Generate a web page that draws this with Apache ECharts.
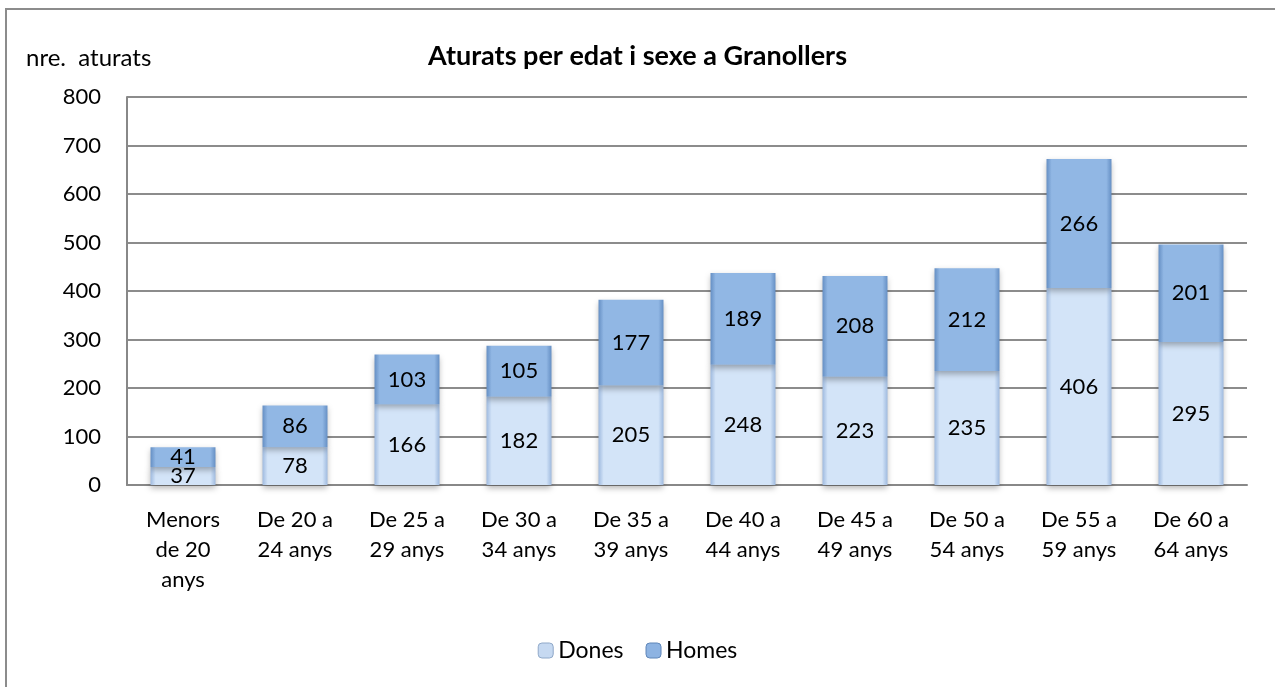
<!DOCTYPE html>
<html><head><meta charset="utf-8">
<script src="https://cdn.jsdelivr.net/npm/echarts@6/dist/echarts.min.js"></script>
<style>html,body{margin:0;padding:0;background:#fff}#c{width:1275px;height:687px}</style>
</head><body><div id="c"></div>
<script>
const categories = ["Menors\nde 20\nanys","De 20 a\n24 anys","De 25 a\n29 anys","De 30 a\n34 anys","De 35 a\n39 anys","De 40 a\n44 anys","De 45 a\n49 anys","De 50 a\n54 anys","De 55 a\n59 anys","De 60 a\n64 anys"];
const dones = [37,78,166,182,205,248,223,235,406,295];
const homes = [41,86,103,105,177,189,208,212,266,201];
const FONT = 'Lato';
const FS = 22;

function grad(edge, mid){
  return new echarts.graphic.LinearGradient(0,0,1,0,[
    {offset:0,color:edge},{offset:0.08,color:mid},{offset:0.92,color:mid},{offset:1,color:edge}]);
}
const chart = echarts.init(document.getElementById('c'));
chart.setOption({
  animation:false,
  title:{text:'Aturats per edat i sexe a Granollers',left:'center',top:38,
    textStyle:{fontFamily:FONT,fontSize:27,fontWeight:'bold',color:'#000'}},
  graphic:[
    {type:'rect',shape:{x:6,y:9,width:1400,height:800},style:{fill:'none',stroke:'#8c8c8c',lineWidth:2}},
    {type:'text',left:26,top:46,style:{text:'nre.  aturats',fontFamily:FONT,fontSize:24,fill:'#000'}}
  ],
  legend:{bottom:20,left:'center',itemWidth:15,itemHeight:15,itemGap:22,
    textStyle:{fontFamily:FONT,fontSize:23,color:'#000'},
    data:[{name:'Dones',itemStyle:{color:'#c6d9f1',borderColor:'#8fa8c8',borderWidth:1}},
          {name:'Homes',itemStyle:{color:'#8db3e2',borderColor:'#5f86b8',borderWidth:1}}]},
  grid:{left:127,right:28,top:97,bottom:202},
  xAxis:{type:'category',data:categories,
    axisLine:{lineStyle:{color:'#888',width:2}},axisTick:{show:false},
    axisLabel:{fontFamily:FONT,fontSize:FS,color:'#000',lineHeight:30,margin:20,interval:0}},
  yAxis:{type:'value',min:0,max:800,interval:100,
    axisLine:{show:true,lineStyle:{color:'#888',width:2}},axisTick:{show:false},
    axisLabel:{fontFamily:FONT,fontSize:FS,color:'#000',margin:26},
    splitLine:{lineStyle:{color:'#8c8c8c',width:2}}},
  series:[
    {name:'Dones',type:'bar',stack:'t',data:dones,barWidth:'58%',
      itemStyle:{color:grad('#9fbadf','#d3e4f8'),shadowColor:'rgba(0,0,0,0.3)',shadowBlur:6,shadowOffsetY:3},
      label:{show:true,position:'inside',fontFamily:FONT,fontSize:FS,color:'#000'}},
    {name:'Homes',type:'bar',stack:'t',data:homes,barWidth:'58%',
      itemStyle:{color:grad('#658fc4','#91b7e4'),shadowColor:'rgba(0,0,0,0.3)',shadowBlur:6,shadowOffsetY:3},
      label:{show:true,position:'inside',fontFamily:FONT,fontSize:FS,color:'#000'}}
  ]
});
</script></body></html>
